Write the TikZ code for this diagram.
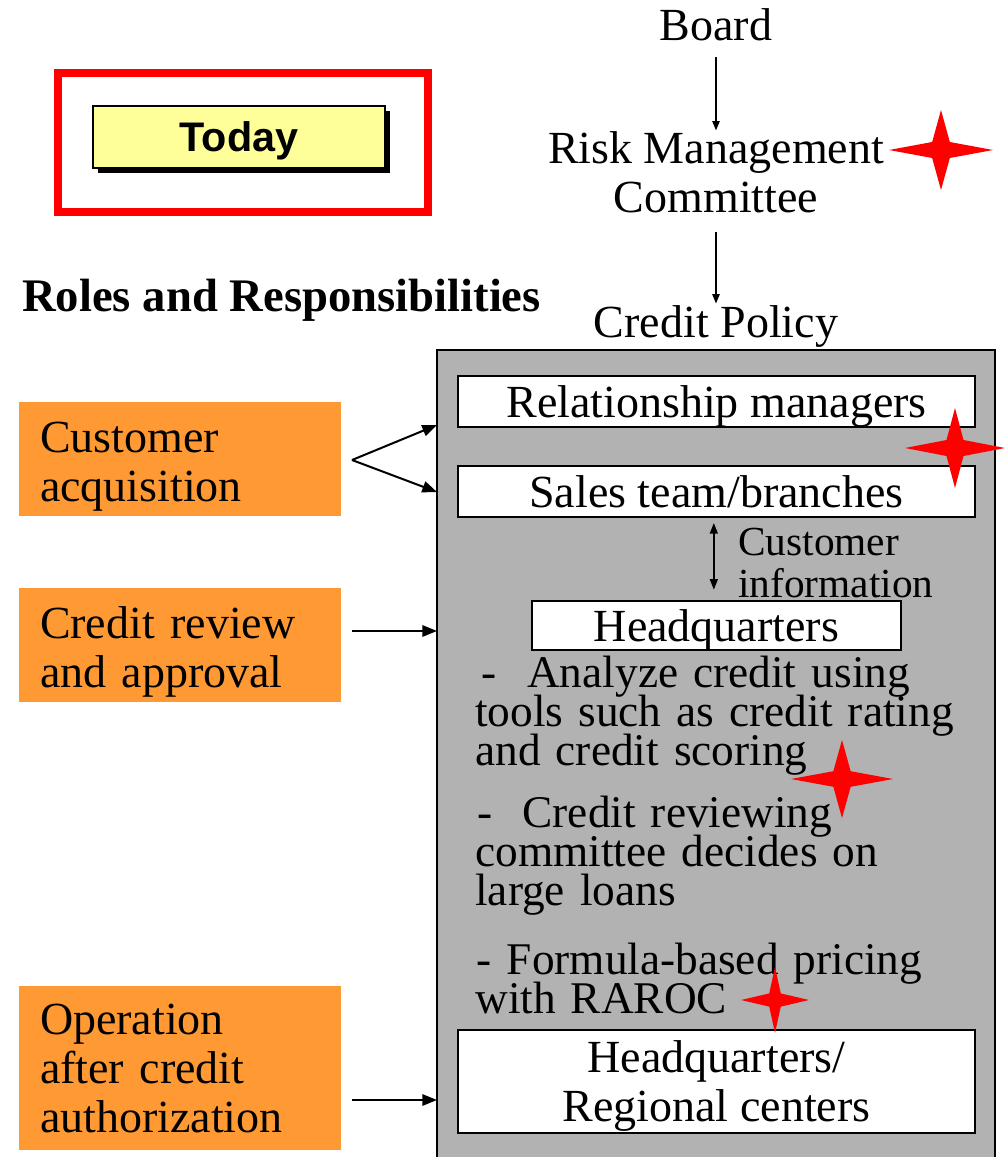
\documentclass[tikz,border=0pt]{standalone}
\usepackage{fontspec}
\setmainfont{Liberation Serif}
\newfontfamily\arialfont{Liberation Sans}
\usepackage{tikz}
\usetikzlibrary{arrows.meta,positioning,calc,shadows}
\definecolor{Stage}{RGB}{255,153,51}
\definecolor{Panel}{RGB}{178,178,178}
\definecolor{Tag}{RGB}{255,255,153}
\newcommand{\bodyfont}{\fontsize{34.5}{36.75}\selectfont}
\newcommand{\tightfont}{\fontsize{34}{29.25}\selectfont\lineskiplimit=-100pt}
\tikzset{
  label/.style={font=\bodyfont,align=center,inner sep=4pt},
  unit/.style={draw,fill=white,line width=1pt,font=\bodyfont,align=center,text depth=0pt,minimum width=387.75pt,minimum height=38.25pt,inner sep=0pt},
  stage/.style={fill=Stage,font=\bodyfont,align=left,text width=210pt,inner xsep=15.75pt,minimum height=85.5pt},
  low/.style={execute at begin node={\rule{0pt}{34pt}}},
  note/.style={font=\tightfont,align=left,text width=380pt,inner sep=0pt,anchor=west},
  link/.style={-{Triangle[length=11pt,width=8.5pt]},line width=1.5pt},
  flow/.style={-{Triangle[length=7pt,width=5.5pt]},line width=1.1pt},
  both/.style={{Triangle[length=8pt,width=6pt]}-{Triangle[length=8pt,width=6pt]},line width=1.1pt},
  spark/.pic={\fill[red] (-1,0) -- (-.17,-.2) -- (0,-1) -- (.17,-.2) -- (1,0) -- (.17,.2) -- (0,1) -- (-.17,.2) -- cycle;}
}

\begin{document}
\begin{tikzpicture}[x=0.75pt,y=-0.75pt]
\clip (0,0) rectangle (1007,1157);
\fill[white] (0,0) rectangle (1007,1157);

% today tag
\node[draw=red,line width=6pt,minimum width=277.5pt,minimum height=104.25pt] (frame) at (243,142.5) {};
\node[draw,fill=Tag,line width=1.5pt,minimum width=219pt,minimum height=46.5pt,text depth=0pt,font=\arialfont\bfseries\fontsize{31}{32}\selectfont,
  drop shadow={shadow xshift=4pt,shadow yshift=-4pt,fill=black,opacity=1}] (today) at (239,137) {Today};
\node[font=\bfseries\fontsize{35}{37}\selectfont,anchor=west,inner sep=0pt] (roles) at (22,300) {Roles and Responsibilities};

% governance chain
\node[label] (board) at (716,25) {Board};
\node[label] (rmc) at (716,172) {Risk Management\\Committee};
\node[label] (policy) at (716,326) {Credit Policy};
\draw[flow,shorten <=8pt,shorten >=-3.5pt] (board) -- (rmc);
\draw[flow,shorten <=10.5pt,shorten >=-3pt] (rmc) -- (policy);

% process panel
\node[draw,fill=Panel,line width=1pt,minimum width=418.5pt,minimum height=622.5pt] (panel) at (716,765) {};
\node[unit] (rel) at (716.5,401.5) {Relationship managers};
\node[unit] (sales) at (716.5,491.5) {Sales team/branches};
\node[unit,minimum width=276.75pt,minimum height=36.75pt] (hq) at (716.5,625.5) {Headquarters};
\node[unit,minimum height=77.25pt] (regional) at (716.5,1081.5) {Headquarters/\\Regional centers};
\draw[both,shorten <=4pt,shorten >=8pt] ([xshift=-2pt]sales.south) -- ([xshift=-2pt]hq.north);
\node[note,font=\fontsize{31}{31.5}\selectfont] (info) at (738,563) {Customer\\information};
\node[note] (analyze) at (475,716) {\hspace{5pt}-~~Analyze credit using\\tools such as credit rating\\and credit scoring};
\node[note] (committee) at (475,856) {\hspace{1.5pt}-~~Credit reviewing\\committee decides on\\large loans};
\node[note] (pricing) at (475,978) {\hspace{1pt}- Formula-based pricing\\with RAROC};

% stages
\node[stage,low] (acq) at (180,459) {Customer\\acquisition};
\node[stage,low] (review) at (180,645) {Credit review\\and approval};
\node[stage,minimum height=123pt] (after) at (180,1068) {Operation\\after credit\\authorization};
\coordinate (fork) at (352,460);
\coordinate (relin) at (437,425);
\coordinate (salin) at (437,492);
\coordinate (revin) at (437,631);
\coordinate (aftin) at (437,1100);
\draw[link] (fork) -- (relin);
\draw[link] (fork) -- (salin);
\draw[link] ([xshift=8.25pt]review.east |- revin) -- (revin);
\draw[link] ([xshift=8.25pt]after.east |- aftin) -- (aftin);

% key points
\pic[xscale=52,yscale=40] at (941,150) {spark};
\pic[xscale=50,yscale=40] at (955,448) {spark};
\pic[xscale=51,yscale=39] at (842,779) {spark};
\pic[xscale=34,yscale=33] at (775,1000) {spark};
\end{tikzpicture}
\end{document}
